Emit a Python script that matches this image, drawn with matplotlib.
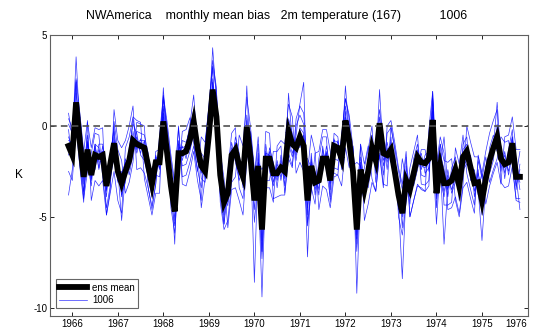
import numpy as np
import matplotlib
matplotlib.use('Agg')
import matplotlib.pyplot as plt
from matplotlib.transforms import ScaledTranslation

# NWAmerica monthly mean bias, 2m temperature (167), experiment 1006
# months Dec 1965 .. Nov 1975
n_months = 120
start_year = 1965 + 11 / 12.0

ens_mean = [
    -1.1, -1.6, 1.3, -0.9, -2.8, -1.3, -2.7, -1.6, -1.7, -1.6,
    -3.3, -2.1, -0.95, -2.5, -3.15, -2.5, -1.9, -0.8, -1.0, -1.1,
    -1.2, -2.2, -3.2, -2.0, -2.0, 0.25, -1.5, -3.3, -4.7, -1.5,
    -1.5, -1.4, -0.75, 0.25, -1.2, -2.2, -2.5, -0.5, 2.0, 0.5,
    -2.7, -4.2, -3.7, -1.6, -1.3, -2.2, -2.8, -0.05, -1.8, -4.1,
    -2.2, -5.7, -1.8, -1.8, -2.6, -2.6, -2.3, -2.5, -0.3, -1.0,
    -1.2, -0.6, -1.1, -4.1, -2.2, -3.1, -3.0, -1.8, -1.8, -3.0,
    -1.1, -1.2, -1.8, 0.3, -0.8, -2.5, -5.7, -2.4, -3.5, -2.5,
    -1.2, -1.9, 0.15, -1.5, -1.6, -1.3, -2.5, -3.8, -4.8, -3.0,
    -3.5, -2.6, -1.7, -2.0, -2.05, -1.8, 0.33, -3.7, -2.2, -3.15,
    -3.15, -3.0, -2.4, -3.3, -1.7, -1.4, -2.3, -3.15, -3.1, -4.1,
    -2.9, -1.9, -1.2, -0.6, -1.8, -2.1, -2.0, -0.95, -2.8, -2.8,
]

member1 = [
    -0.8, -0.9, 3.8, -0.2, -2.4, -0.5, -2.9, -1.0, -1.2, -2.3,
    -3.9, -1.5, -0.3, -2.0, -3.8, -3.1, -1.2, 0.1, -0.4, -1.6,
    -1.9, -2.8, -3.9, -1.4, -1.3, 1.1, -0.9, -3.9, -5.5, -2.2,
    -0.8, -0.9, -0.2, 0.9, -0.5, -2.9, -3.1, 0.3, 4.3, 1.4,
    -2.0, -3.6, -4.4, -2.3, -0.6, -1.5, -3.4, 0.6, -1.1, -5.3,
    -3.0, -9.4, -2.9, -1.2, -2.0, -3.4, -1.6, -3.3, 0.4, -0.4,
    -1.9, -0.1, -0.4, -3.4, -2.9, -2.5, -3.8, -1.1, -2.5, -3.9,
    -0.4, -0.6, -2.4, 1.1, -0.2, -3.2, -6.5, -1.7, -2.9, -3.4,
    -1.9, -1.1, 0.9, -0.8, -2.4, -0.6, -3.2, -3.0, -5.6, -2.2,
    -4.3, -1.8, -1.0, -2.7, -2.8, -1.1, 1.0, -4.5, -1.5, -2.4,
    -3.9, -2.3, -1.7, -4.1, -1.0, -0.6, -3.0, -2.4, -3.8, -3.3,
    -3.6, -1.2, -0.5, -1.3, -1.1, -2.9, -1.3, -0.2, -3.5, -2.1,
]
member2 = [
    -3.8, -2.4, 0.6, -1.7, -3.6, -2.1, -2.0, -2.4, -1.0, -1.0,
    -2.6, -2.9, -1.7, -1.8, -3.9, -1.8, -2.7, -1.5, -0.3, -0.4,
    -0.5, -1.5, -3.8, -2.7, -2.8, -0.5, -0.8, -2.6, -5.2, -0.8,
    -2.2, -2.1, -1.4, -0.4, -2.0, -1.5, -1.8, -1.2, 1.3, -0.2,
    -3.4, -4.9, -3.0, -0.9, -2.0, -3.0, -2.1, -0.8, -2.6, -3.4,
    -1.5, -4.9, -1.0, -2.5, -3.3, -1.9, -3.0, -1.8, -1.0, -1.7,
    -0.5, 1.2, 2.4, -4.9, -1.5, -3.8, -2.3, -2.5, -1.1, -2.3,
    -1.8, -1.9, -1.1, -0.4, -1.5, -1.8, -9.2, -3.1, -4.2, -1.8,
    -0.5, -2.6, -0.6, -2.2, -0.9, -2.0, -1.8, -4.6, -4.0, -3.7,
    -2.8, -3.3, -2.4, -1.3, -1.3, -2.5, -0.4, -3.0, -2.9, -3.9,
    -2.4, -3.7, -3.1, -2.6, -2.4, -2.1, -1.6, -3.9, -2.4, -4.9,
    -2.2, -2.6, -1.9, 0.1, -2.5, -1.4, -2.7, -1.6, -2.1, -3.5,
]
member3 = [
    -1.6, -1.0, 2.4, -1.4, -2.2, -1.9, -3.3, -1.1, -2.3, -1.1,
    -3.0, -2.6, -1.4, -3.1, -2.6, -2.0, -2.4, -0.3, -1.5, -0.7,
    -1.6, -1.7, -2.6, -2.5, -1.5, 0.7, -2.1, -2.9, -6.5, -1.0,
    -1.9, -1.0, -1.3, -0.2, -0.7, -2.6, -2.0, -1.0, 2.6, 0.0,
    -3.2, -3.8, -4.2, -1.2, -1.7, -2.7, -2.3, 2.2, -2.3, -3.6,
    -2.7, -6.3, -2.3, -1.4, -3.1, -2.1, -2.8, -2.0, -0.8, -1.5,
    -0.7, -1.2, -0.5, -3.6, -2.6, -2.6, -3.5, -1.3, -2.3, -2.5,
    -1.6, -0.8, -2.2, 0.8, -1.3, -3.0, -5.0, -2.9, -3.0, -3.0,
    -1.6, -1.4, -0.4, -1.9, -1.2, -1.8, -2.0, -4.3, -8.4, -3.5,
    -3.0, -2.1, -2.2, -1.5, -2.6, -2.3, 0.8, -3.2, -2.7, -3.6,
    -2.7, -3.5, -2.9, -2.8, -2.2, -1.9, -1.8, -3.6, -2.6, -3.6,
    -2.4, -2.4, -0.7, -1.1, -2.3, -1.6, -2.5, -1.4, -3.3, -2.4,
]
member4 = [
    -0.6, -1.2, 1.8, -0.4, -3.2, -0.8, -2.2, -2.1, -1.3, -2.0,
    -3.6, -1.6, -0.6, -2.9, -3.4, -2.9, -1.5, -1.2, -0.6, -1.5,
    -0.8, -2.6, -3.5, -1.6, -2.4, -0.2, -1.9, -3.6, -4.2, -1.9,
    -1.1, -1.8, -0.4, 0.6, -1.6, -1.9, -2.9, -0.1, 1.5, 0.9,
    -2.3, -4.5, -3.3, -2.0, -0.9, -1.8, -3.2, -0.5, -1.4, -8.6,
    -1.8, -5.2, -1.4, -2.2, -2.2, -3.0, -1.9, -2.9, 0.2, -0.6,
    -1.6, -0.2, -1.6, -4.5, -1.8, -3.5, -2.6, -2.2, -1.4, -3.5,
    -0.7, -1.6, -1.4, 2.2, -0.4, -2.1, -6.2, -2.0, -3.9, -2.1,
    -0.8, -2.3, 0.5, -1.1, -2.0, -0.9, -2.9, -3.4, -4.4, -2.6,
    -3.9, -2.9, -1.3, -2.4, -1.6, -1.4, 0.0, -4.0, -1.8, -2.8,
    -3.5, -2.6, -2.0, -3.7, -1.3, -1.0, -2.7, -2.8, -3.5, -6.3,
    -3.2, -1.5, -1.5, -0.2, -1.4, -2.6, -1.6, -0.6, -2.5, -3.1,
]
member5 = [
    -0.2, -2.0, 1.0, -1.1, -2.5, -1.6, -3.0, -1.3, -2.0, -1.9,
    -2.8, -2.4, -1.2, -2.2, -2.9, -2.2, -2.2, -0.6, -1.3, -0.9,
    -1.4, -2.0, -2.9, -2.3, -1.8, 2.1, -1.2, -3.2, -4.0, -1.3,
    -1.7, -1.2, -1.0, 0.0, -1.0, -2.4, -2.3, -0.7, 2.2, 0.3,
    -2.9, -3.9, -3.9, -1.8, -1.5, -2.5, -2.6, -0.3, -2.0, -3.5,
    -2.4, -5.0, -1.6, -2.0, -2.8, -2.3, -2.5, -2.7, -0.6, -1.2,
    -1.0, -0.8, -0.9, -7.2, -2.4, -2.9, -3.2, -1.6, -2.0, -3.2,
    -1.3, -1.4, -1.6, 0.0, -1.0, -2.7, -5.2, -2.6, -3.3, -2.7,
    -1.0, -2.1, 2.0, -1.7, -1.4, -1.5, -2.3, -4.0, -4.5, -3.2,
    -3.3, -2.4, -1.9, -2.2, -2.3, -2.0, 0.5, -3.4, -2.4, -3.3,
    -2.9, -3.2, -2.6, -3.1, -1.9, -1.6, -2.5, -3.3, -2.9, -3.8,
    -2.7, -2.1, -1.4, -0.8, -1.6, -2.3, -1.8, -1.1, -2.6, -2.9,
]
member6 = [
    -1.4, -1.3, 0.2, -0.3, -3.8, -0.9, -2.5, -1.8, -1.6, -1.4,
    -3.5, -1.9, -0.8, -2.4, -5.2, -2.7, -1.6, -0.9, -1.2, -1.2,
    -1.1, -2.4, -3.3, -1.8, -2.3, -0.4, -1.7, -3.5, -4.4, -1.6,
    -1.4, -1.5, -0.6, 0.4, -1.4, -2.0, -2.6, -0.4, 1.8, 0.6,
    -2.5, -4.0, -3.6, -1.4, -1.1, -2.1, -3.0, 0.3, -1.6, -4.6,
    -2.0, -6.9, -1.5, -1.6, -2.4, -2.8, -2.1, -2.4, -0.1, -0.8,
    -1.3, -0.4, -1.3, -3.9, -2.0, -3.3, -2.8, -1.9, -1.6, -2.8,
    -1.0, -1.1, -2.0, 0.5, -0.6, -2.4, -6.0, -2.2, -3.6, -2.3,
    -1.3, -1.7, -0.2, -1.4, -1.8, -1.1, -2.6, -3.6, -5.0, -2.8,
    -3.6, -2.7, -1.5, -1.9, -1.9, -1.6, 1.9, -3.8, -2.0, -6.5,
    -3.3, -2.8, -2.3, -3.4, -1.5, -1.2, -2.1, -3.0, -3.2, -4.3,
    -3.0, -1.8, -1.0, -0.4, -1.9, -2.0, -2.1, -0.8, -2.9, -2.6,
]
member7 = [
    -1.2, -1.8, 0.9, -0.6, -2.9, -1.0, -2.8, -1.5, -1.9, -1.7,
    -3.2, -2.2, -0.9, -2.7, -3.0, -2.6, -2.0, -0.7, -0.9, -1.0,
    -1.3, -2.3, -3.0, -2.1, -1.9, 0.5, -1.4, -3.4, -4.6, -1.5,
    -1.5, -1.3, -0.7, 0.2, -1.1, -2.3, -2.4, -0.6, 2.4, 0.7,
    -2.6, -5.4, -3.5, -1.5, -1.4, -2.3, -2.7, 0.0, -1.7, -3.9,
    -2.3, -5.5, -1.7, -1.9, -2.6, -2.5, -2.2, -2.6, 1.8, -0.9,
    -1.1, -0.7, -1.0, -3.8, -2.1, -3.0, -3.1, -1.7, -1.7, -3.1,
    -1.2, -1.3, -1.7, 0.2, -0.9, -2.6, -5.5, -2.5, -3.4, -2.5,
    -1.2, -1.9, 0.1, -1.6, -1.7, -1.3, -2.4, -3.7, -4.7, -3.0,
    -3.4, -2.6, -1.7, -2.0, -2.1, -1.8, 0.3, -3.6, -2.2, -3.1,
    -3.1, -3.0, -2.4, -3.2, -1.7, -1.4, -2.3, -3.1, -3.0, -4.0,
    -2.9, -1.9, -1.2, 1.3, -1.8, -2.1, -2.0, -0.9, -2.8, -4.6,
]
member8 = [
    0.7, -0.6, 0.5, 0.5, -1.8, -1.3, -2.2, -1.0, -2.4, -1.4,
    -2.8, -1.8, 0.0, -3.0, -2.5, -2.7, -1.6, 0.4, -0.9, -0.8,
    -0.8, -2.3, -2.6, -1.7, -2.1, 0.9, -2.0, -3.3, -3.6, -1.2,
    -1.2, -1.1, 0.1, 1.7, -1.2, -4.5, -2.9, -0.4, 1.9, 0.3,
    -2.7, -3.3, -3.7, -1.4, -1.3, -1.7, -2.9, -0.6, -1.7, -3.9,
    -2.0, -2.4, -2.0, -1.6, -2.4, -2.8, -2.3, -2.3, -0.5, -1.0,
    -1.0, -0.6, -1.6, -1.8, -2.3, -3.2, -2.7, -2.1, -1.5, -2.8,
    -0.8, -0.9, -2.0, 0.0, 0.1, -2.2, -2.0, -2.2, -3.7, -2.2,
    -1.3, -2.1, -0.1, -1.3, -1.4, -1.2, -2.8, -3.8, -1.8, -3.0,
    -3.7, -2.8, -1.6, -2.0, -1.8, -1.7, -1.4, -5.4, -2.1, -0.6,
    -3.4, -2.9, -2.2, -3.5, -1.6, -1.4, -2.4, -3.1, -3.4, -2.6,
    -3.2, -1.7, -0.9, -1.4, -1.8, -2.0, -2.0, -0.6, -2.7, -1.4,
]
member9 = [
    0.4, -0.1, 2.6, 0.7, -1.4, 0.3, -4.1, -3.0, -3.3, -3.0,
    -4.9, -3.5, 0.9, -0.8, -1.2, -0.8, 0.0, 1.1, -2.4, -2.3,
    -2.6, -3.4, -4.6, -3.2, -0.5, 1.7, 0.2, -1.6, -3.1, 0.0,
    -3.2, -3.3, -2.5, -1.4, -3.0, -4.1, -1.0, 1.0, 3.3, 1.9,
    -1.4, -2.9, -5.6, -3.5, -3.4, -4.1, -4.9, -1.9, -0.3, -2.7,
    -0.6, -4.0, -0.3, -0.4, -4.0, -3.9, -3.8, -3.8, -1.8, -2.3,
    0.4, 1.1, 0.7, -2.6, -0.5, -1.4, -4.6, -3.3, -3.5, -4.5,
    -2.8, -2.7, -0.5, 1.5, 0.6, -1.2, -4.5, -1.0, -5.2, -4.3,
    -3.1, -3.6, -1.6, -3.4, 0.0, 0.3, -0.9, -2.3, -3.2, -1.4,
    -5.0, -4.1, -3.3, -3.4, -3.6, -3.3, 1.5, -2.5, -1.0, -1.9,
    -2.0, -1.8, -4.1, -5.0, -3.4, -3.1, -4.0, -4.8, -1.6, -2.6,
    -1.4, -0.4, 0.3, 0.9, -3.1, -3.4, -3.3, -2.2, -4.1, -4.2,
]
member10 = [
    -2.5, -3.0, -0.1, -2.3, -4.2, 0.2, -1.2, -0.1, -0.2, -0.1,
    -4.9, -3.7, -2.5, -4.1, -4.8, -1.2, -0.6, 0.5, 0.3, 0.2,
    -2.9, -3.9, -4.9, -3.7, -3.7, 1.6, -0.1, -1.9, -3.3, -0.1,
    -2.8, -2.7, -2.0, -1.1, -2.5, -0.6, -0.9, 1.1, 3.6, 2.1,
    -4.2, -5.7, -5.2, -3.1, -2.8, -0.5, -1.1, 1.6, -0.1, -2.4,
    -3.8, -7.3, -3.4, -3.4, -4.2, -1.1, -0.8, -1.0, 1.2, 0.5,
    -2.6, -2.0, -2.5, -5.5, -3.6, -1.5, -1.4, -0.2, -0.2, -1.4,
    -2.6, -2.7, -3.3, -1.2, -2.3, -1.1, -4.3, -1.0, -2.1, -1.1,
    -2.9, -3.6, -1.5, -3.2, -3.3, 0.0, -1.2, -2.5, -3.5, -1.7,
    -5.0, -4.1, -3.2, -3.5, -3.6, -0.2, 1.9, -2.1, -0.6, -1.5,
    -4.6, -4.5, -3.9, -4.8, -3.2, 0.0, -0.9, -1.7, -1.7, -2.7,
    -4.3, -3.3, -2.6, -2.0, -3.2, -0.6, -0.5, 0.5, -1.3, -1.3,
]
member11 = [
    0.1, -0.4, 2.5, -2.1, -4.0, -2.5, -1.5, -0.4, -0.5, -2.8,
    -4.5, -3.3, 0.25, -1.3, -1.9, -3.7, -3.1, -2.0, 0.2, 0.1,
    0.0, -3.4, -4.4, -3.2, -0.8, 1.45, -0.3, -4.5, -5.9, -2.7,
    -0.3, -0.2, 0.45, -0.95, -2.4, -3.4, -1.3, 0.7, 3.2, -0.7,
    -3.9, -5.4, -2.5, -0.4, -0.1, -3.4, -4.0, -1.25, -0.6, -2.9,
    -1.0, -6.9, -3.0, -3.0, -1.4, -1.4, -1.1, -3.7, -1.5, -2.2,
    0.0, 0.6, 0.1, -5.3, -3.4, -4.3, -1.8, -0.6, -0.6, -4.2,
    -2.3, -2.4, -0.6, 1.5, 0.4, -3.7, -6.9, -3.6, -2.3, -1.3,
    0.0, -3.1, -1.05, -2.7, -0.4, -0.1, -1.3, -5.0, -6.0, -4.2,
    -2.3, -1.4, -0.5, -3.2, -3.25, -3.0, 1.53, -2.5, -1.0, -4.35,
    -4.35, -4.2, -1.2, -2.1, -0.5, -2.6, -3.5, -4.35, -1.9, -2.9,
    -1.7, -3.1, -2.4, -1.8, -0.6, -0.9, -0.8, -2.15, -4.0, -4.0,
]
members = [member1, member2, member3, member4, member5, member6,
           member7, member8, member9, member10, member11]

years = start_year + np.arange(n_months) / 12.0
year_ticks = list(range(1966, 1977))
k_ticks = [-10, -5, 0, 5]

plt.rcParams['font.family'] = ['Liberation Sans', 'DejaVu Sans']
plt.rcParams['axes.unicode_minus'] = False

fig = plt.figure(figsize=(5.36, 3.29), dpi=100)
ax = fig.add_axes([50 / 536, 13 / 329, 477.5 / 536, 281 / 329])

for i, m in enumerate(members):
    ax.plot(years, m, color='blue', lw=0.5, alpha=0.8,
            label='1006' if i == 0 else None, zorder=2)
ax.plot(years, ens_mean, color='black', lw=4.2, solid_joinstyle='miter',
        label='ens mean', zorder=3)
ax.axhline(0, color='#505050', ls='--', lw=1.2, dashes=(4, 2.5), zorder=4)

ax.set_xlim(1965.51, 1976.0)
ax.set_ylim(-10.45, 5.0)
ax.set_xticks(year_ticks)
ax.set_yticks(k_ticks)
ax.tick_params(direction='in', top=True, right=True, length=3, width=0.6,
               labelsize=7, pad=2, colors='black')
for s in ax.spines.values():
    s.set_color('#606060')
    s.set_linewidth(0.8)

# last year label sits just inside the figure edge
last = ax.get_xticklabels()[-1]
last.set_transform(last.get_transform() + ScaledTranslation(-8 / 72, 0, fig.dpi_scale_trans))

ax.set_ylabel('K', fontsize=8.5, rotation=0, labelpad=10, va='center')

# legend order: ens mean first
h, l = ax.get_legend_handles_labels()
leg = ax.legend(h[::-1], l[::-1], loc='lower left', bbox_to_anchor=(0.008, 0.02),
                fontsize=7, frameon=True, fancybox=False, handlelength=2.9,
                borderpad=0.35, labelspacing=0.25, handletextpad=0.5,
                borderaxespad=0.2)
leg.get_frame().set_edgecolor('#404040')
leg.get_frame().set_linewidth(0.8)

fig.text(276.5 / 536, 1 - 16 / 329,
         'NWAmerica    monthly mean bias   2m temperature (167)           1006',
         ha='center', va='center', fontsize=8.9)

fig.savefig('out.png', dpi=100)
